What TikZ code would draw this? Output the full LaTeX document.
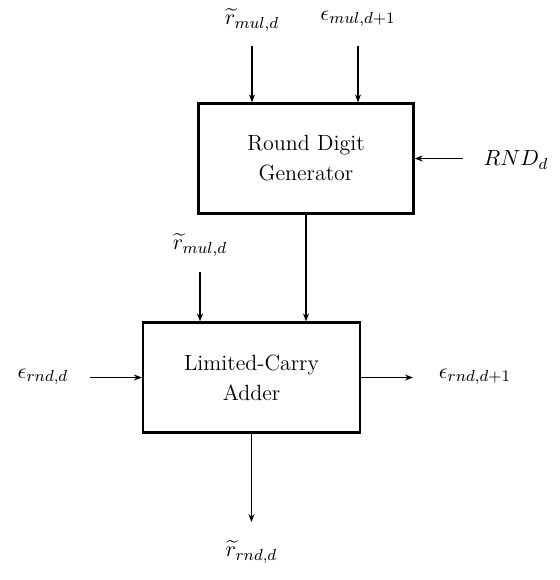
\documentclass[tikz,border=0pt]{standalone}
\usepackage{amsmath,amssymb}
\usepackage{tikz}
\usetikzlibrary{positioning,arrows.meta,calc}

\begin{document}
\begin{tikzpicture}[
    x=0.5pt, y=-0.5pt,
    every node/.style={font=\fontsize{11}{15}\selectfont},
    block/.style={draw, rectangle, line width=1.1pt, minimum width=107.5pt, minimum height=55pt, align=center},
    sig/.style={line width=0.9pt, -{Stealth[length=4pt,width=3pt]}},
    lbl/.style={inner sep=1pt}
]
\useasboundingbox (0,0) rectangle (559,580);

% die beiden Bloecke
\node[block] (rdg) at (306,158.5) {Round Digit\\Generator};
\node[block, minimum width=108.5pt] (lca) at (251.5,377.5) {Limited-Carry\\Adder};

% freie Enden der Leitungen
\coordinate (in1) at (252,46);
\coordinate (in2) at (358,46);
\coordinate (rndin) at (463,158.5);
\coordinate (in3) at (200,272);
\coordinate (in4) at (90,377.5);
\coordinate (out1) at (413,377.5);
\coordinate (out2) at (251.5,522);

% Beschriftungen
\node[lbl] (rmul) at (252,20) {$\widetilde{r}_{mul,d}$};
\node[lbl] (emul) at (358,19) {$\epsilon_{mul,d+1}$};
\node[lbl] (rnd) at (516,160) {$RND_d$};
\node[lbl] (rmulb) at (200,245) {$\widetilde{r}_{mul,d}$};
\node[lbl] (ernd) at (43,377) {$\epsilon_{rnd,d}$};
\node[lbl] (erndo) at (475,377) {$\epsilon_{rnd,d+1}$};
\node[lbl] (rrnd) at (251.5,552) {$\widetilde{r}_{rnd,d}$};

% Leitungen
\draw[sig] (in1) -- (in1 |- rdg.north);
\draw[sig] (in2) -- (in2 |- rdg.north);
\draw[sig] (rndin) -- (rdg.east);
\draw[sig] (rdg.south) -- (rdg.south |- lca.north);
\draw[sig] (in3) -- (in3 |- lca.north);
\draw[sig] (in4) -- (lca.west);
\draw[sig] (lca.east) -- (out1);
\draw[sig] (lca.south) -- (out2);

\end{tikzpicture}
\end{document}
